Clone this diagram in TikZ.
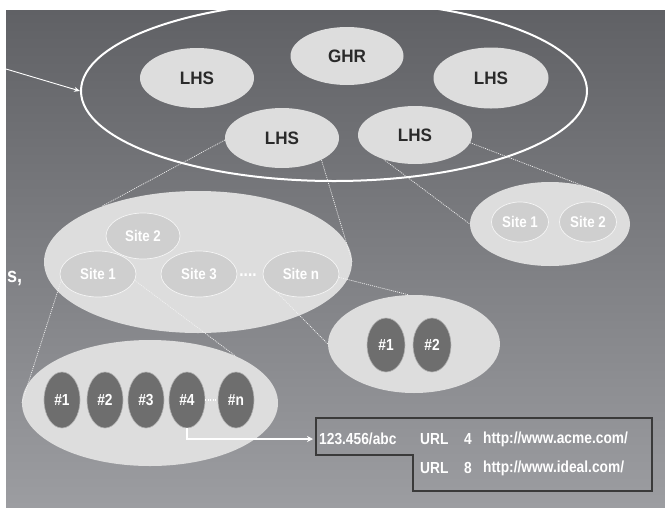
\documentclass[tikz,border=0pt]{standalone}
\usepackage{fontspec}
\newfontfamily\nb{Liberation Sans}[FakeStretch=0.86]
\newfontfamily\lb{Liberation Sans}[FakeStretch=0.95]
\usetikzlibrary{shapes.geometric,arrows.meta}
\definecolor{bgtop}{HTML}{606165}
\definecolor{bgbot}{HTML}{9C9DA1}
\definecolor{lightfill}{HTML}{DDDDDD}
\definecolor{sitefill}{HTML}{CFCFCF}
\definecolor{darkfill}{HTML}{6E6E6E}
\definecolor{darktext}{HTML}{2A2A2A}
\definecolor{tabline}{HTML}{3A3A3A}
\begin{document}
\begin{tikzpicture}[x=1pt,y=-1pt,
  bigring/.style={ellipse, draw=white, line width=2pt, inner sep=0pt},
  lhsnode/.style={ellipse, fill=lightfill, inner sep=0pt, text=darktext,
    font=\lb\bfseries\fontsize{18}{18}\selectfont},
  group/.style={ellipse, fill=lightfill, inner sep=0pt},
  sitenode/.style={ellipse, fill=sitefill, draw=white!92!gray, line width=0.7pt, inner sep=0pt,
    text=white, font=\nb\bfseries\fontsize{15.5}{15.5}\selectfont},
  itemnode/.style={ellipse, fill=darkfill, draw=gray!60, line width=0.6pt, inner sep=0pt,
    minimum width=36, minimum height=56, text=white, font=\nb\bfseries\fontsize{16}{16}\selectfont},
  link/.style={draw=white!90!gray, line width=0.7pt, dash pattern=on 1pt off 1pt},
  tabtxt/.style={inner sep=0pt, anchor=west, text=white, font=\nb\bfseries\fontsize{16}{16}\selectfont},
  pointer/.style={draw=white, line width=1.6pt, -{Stealth[length=6pt,width=6pt]}}
]
\useasboundingbox (0,0) rectangle (665,507);
\fill[white] (0,0) rectangle (665,507);
\shade[top color=bgtop, bottom color=bgbot] (6,10) rectangle (665,507);

% top ring
\begin{scope}
\clip (6,10) rectangle (665,507);
\node[bigring, minimum width=506, minimum height=180] (ring) at (334,91) {};
\end{scope}
\node[lhsnode, minimum width=113, minimum height=58] (ghr) at (347,56) {GHR};
\node[lhsnode, minimum width=114, minimum height=60] (lhsA) at (197,78) {LHS};
\node[lhsnode, minimum width=115, minimum height=61] (lhsB) at (491,78) {LHS};
\node[lhsnode, minimum width=114, minimum height=60] (lhsC) at (282,138) {LHS};
\node[lhsnode, minimum width=114, minimum height=58] (lhsD) at (415,135) {LHS};

\coordinate (inlet) at (6,69);
\draw[draw=white, line width=0.9pt, -{Stealth[length=6pt,width=5pt]}] (inlet) -- (ring.west);

% groups
\node[group, minimum width=308, minimum height=142] (grpL) at (198,262) {};
\node[group, minimum width=160, minimum height=84] (grpR) at (550,224) {};
\node[group, minimum width=172, minimum height=98] (grpM) at (414,344) {};
\node[group, minimum width=256, minimum height=126] (grpB) at (150,403) {};

% sites
\node[sitenode, minimum width=74, minimum height=46] (s2) at (143,236) {Site 2};
\node[sitenode, minimum width=76, minimum height=46] (s1) at (98,274) {Site 1};
\node[sitenode, minimum width=76, minimum height=46] (s3) at (199,274) {Site 3};
\node[sitenode, minimum width=76, minimum height=46] (sn) at (301,274) {Site n};
\node[inner sep=0pt, text=white, font=\nb\bfseries\fontsize{18}{18}\selectfont] (sdots) at (248,275) {....};

\node[sitenode, minimum width=57, minimum height=40] (rs1) at (520,222) {Site 1};
\node[sitenode, minimum width=57, minimum height=40] (rs2) at (588,222) {Site 2};

% items
\node[itemnode, minimum width=38, minimum height=54] (m1) at (386,345) {\#1};
\node[itemnode, minimum width=38, minimum height=54] (m2) at (432,345) {\#2};

\node[itemnode] (b1) at (62,400) {\#1};
\node[itemnode] (b2) at (105,400) {\#2};
\node[itemnode] (b3) at (146,400) {\#3};
\node[itemnode] (b4) at (187,400) {\#4};
\node[itemnode] (bn) at (236,400) {\#n};
\draw[draw=white, line width=1.2pt, dash pattern=on 1pt off 1.5pt] (b4.east) -- (bn.west);

% dotted links
\draw[link] (lhsC.182) -- (grpL.150);
\draw[link] (lhsC.-29) -- (grpL.0);
\draw[link] (lhsD.-142) -- (grpR.180);
\draw[link] (lhsD.-8) -- (grpR.25);
\draw[link] (sn.-5) -- (grpM.96);
\draw[link] (sn.-144) -- (grpM.180);
\draw[link] (s1.190) -- (grpB.180);
\draw[link] (s1.-10) -- (grpB.29);

% side text
\node[inner sep=0pt, anchor=west, text=white, font=\nb\bfseries\fontsize{21}{21}\selectfont] (side) at (7,278) {s,};

% table
\draw[tabline, line width=1.2pt] (316,418) -- (652,418) -- (652,491) -- (413,491) -- (413,455) -- (316,455) -- cycle;
\node[tabtxt] (ip) at (319,439) {123.456/abc};
\node[tabtxt] (url1) at (420,439) {URL};
\node[tabtxt] (n4) at (464,439) {4};
\node[tabtxt] (acme) at (483,439) {http://www.acme.com/};
\node[tabtxt] (url2) at (420,468) {URL};
\node[tabtxt] (n8) at (464,468) {8};
\node[tabtxt] (ideal) at (483,468) {http://www.ideal.com/};
\coordinate (tabin) at (313,439);
\draw[pointer] (b4.south) |- (tabin);
\end{tikzpicture}
\end{document}
